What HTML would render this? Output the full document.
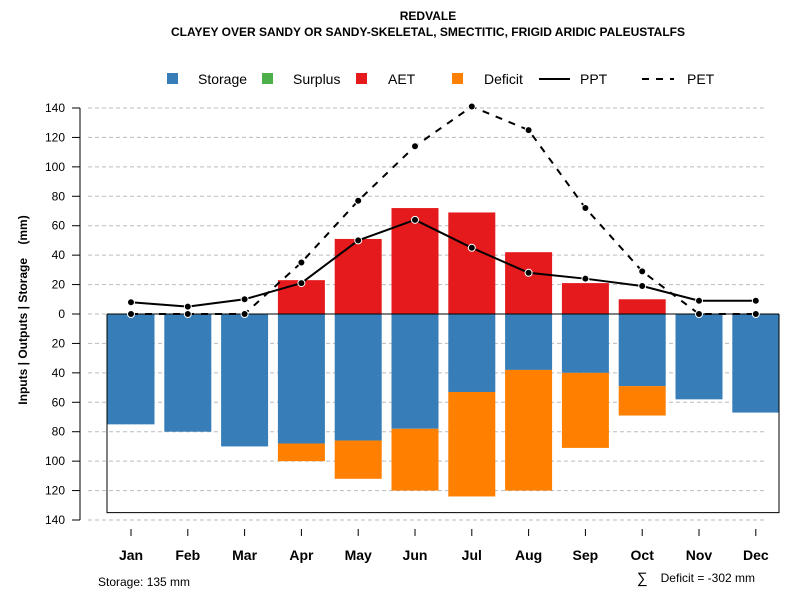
<!DOCTYPE html>
<html><head><meta charset="utf-8"><style>
body{margin:0;background:#fff;}
svg{display:block;font-family:"Liberation Sans",sans-serif;}
</style></head><body>
<svg id="c" width="800" height="600">
<text x="428" y="20" text-anchor="middle" font-size="12" font-weight="bold">REDVALE</text>
<text x="428" y="36" text-anchor="middle" font-size="12" font-weight="bold">CLAYEY OVER SANDY OR SANDY-SKELETAL, SMECTITIC, FRIGID ARIDIC PALEUSTALFS</text>
<text transform="translate(27,310) rotate(-90)" text-anchor="middle" font-size="12" font-weight="bold" xml:space="preserve">Inputs | Outputs | Storage    (mm)</text>
<text x="98" y="586" font-size="12">Storage: 135 mm</text>
<text x="637" y="583" font-size="15">∑</text>
<text x="755" y="582" text-anchor="end" font-size="12">Deficit = -302 mm</text>
<g id="legend">
<rect x="167" y="73" width="11" height="11" fill="#377eb8"/>
<text x="198" y="84" font-size="14">Storage</text>
<rect x="262" y="73" width="11" height="11" fill="#4daf4a"/>
<text x="293" y="84" font-size="14">Surplus</text>
<rect x="356" y="73" width="11" height="11" fill="#e41a1c"/>
<text x="388" y="84" font-size="14">AET</text>
<rect x="452" y="73" width="11" height="11" fill="#ff7f00"/>
<text x="484" y="84" font-size="14">Deficit</text>
<line x1="539" y1="79" x2="570" y2="79" stroke="#000" stroke-width="2"/>
<text x="580" y="84" font-size="14">PPT</text>
<line x1="642" y1="79" x2="674" y2="79" stroke="#000" stroke-width="2" stroke-dasharray="7,7"/>
<text x="687" y="84" font-size="14">PET</text>
</g>
</svg>
<script>
const months=["Jan","Feb","Mar","Apr","May","Jun","Jul","Aug","Sep","Oct","Nov","Dec"];
const storage=[75,80,90,88,86,78,53,38,40,49,58,67];
const deficit=[0,0,0,12,26,42,71,82,51,20,0,0];
const aet=[0,0,0,23,51,72,69,42,21,10,0,0];
const ppt=[8,5,10,21,50,64,45,28,24,19,9,9];
const pet=[0,0,0,35,77,114,141,125,72,29,0,0];
const yTicks=[140,120,100,80,60,40,20,0,20,40,60,80,100,120,140];
const yTickVals=[140,120,100,80,60,40,20,0,-20,-40,-60,-80,-100,-120,-140];
const storageCap=135;
const NS="http://www.w3.org/2000/svg";
const svg=document.getElementById('c');
const y=v=>314-v*(206/140);
const x=i=>131+i*56.8;
const bw=47;
function mk(t,a,p){const e=document.createElementNS(NS,t);for(const k in a)e.setAttribute(k,a[k]);(p||svg).appendChild(e);return e;}
mk('line',{x1:80,y1:y(140),x2:80,y2:y(-140),stroke:'#000'});
yTickVals.forEach((v,i)=>{
  const g=mk('line',{x1:88,y1:y(v),x2:765,y2:y(v),stroke:'#bbb','stroke-dasharray':'4,3'});
  
  
  mk('line',{x1:72,y1:y(v),x2:80,y2:y(v),stroke:'#000'});
  const t=mk('text',{x:65,y:y(v)+4,'text-anchor':'end','font-size':12});
  t.textContent=yTicks[i];
  
  
});
months.forEach((m,i)=>{
  const cx=x(i);
  const s=mk('rect',{x:cx-bw/2,y:y(0),width:bw,height:y(-storage[i])-y(0),fill:'#377eb8'});
  
  
  if(deficit[i]>0){
    const d=mk('rect',{x:cx-bw/2,y:y(-storage[i]),width:bw,height:y(-storage[i]-deficit[i])-y(-storage[i]),fill:'#ff7f00'});
    
    
  }
  if(aet[i]>0){
    const a=mk('rect',{x:cx-bw/2,y:y(aet[i]),width:bw,height:y(0)-y(aet[i]),fill:'#e41a1c'});
    
    
  }
  mk('line',{x1:cx,y1:529,x2:cx,y2:536,stroke:'#000'});
  const t=mk('text',{x:cx,y:560,'text-anchor':'middle','font-size':14,'font-weight':'bold'});
  t.textContent=m;
  
  
});
const box=mk('polyline',{points:`107,${y(0)} 107,${y(-storageCap)} 779,${y(-storageCap)} 779,${y(0)}`,fill:'none',stroke:'#000'});


const zl=mk('line',{x1:107,y1:y(0),x2:779,y2:y(0),stroke:'#000'});


function series(vals,dash,name){
  const p=mk('polyline',{points:vals.map((v,i)=>x(i)+','+y(v)).join(' '),fill:'none',stroke:'#000','stroke-width':2,'stroke-dasharray':dash});
  
  
  vals.forEach((v,i)=>{
    const c=mk('circle',{cx:x(i),cy:y(v),r:3.5,fill:'#000',stroke:'#fff','stroke-width':1});
    
    
  });
}
series(pet,'7,7','pet');
series(ppt,'none','ppt');
</script>
</body></html>
